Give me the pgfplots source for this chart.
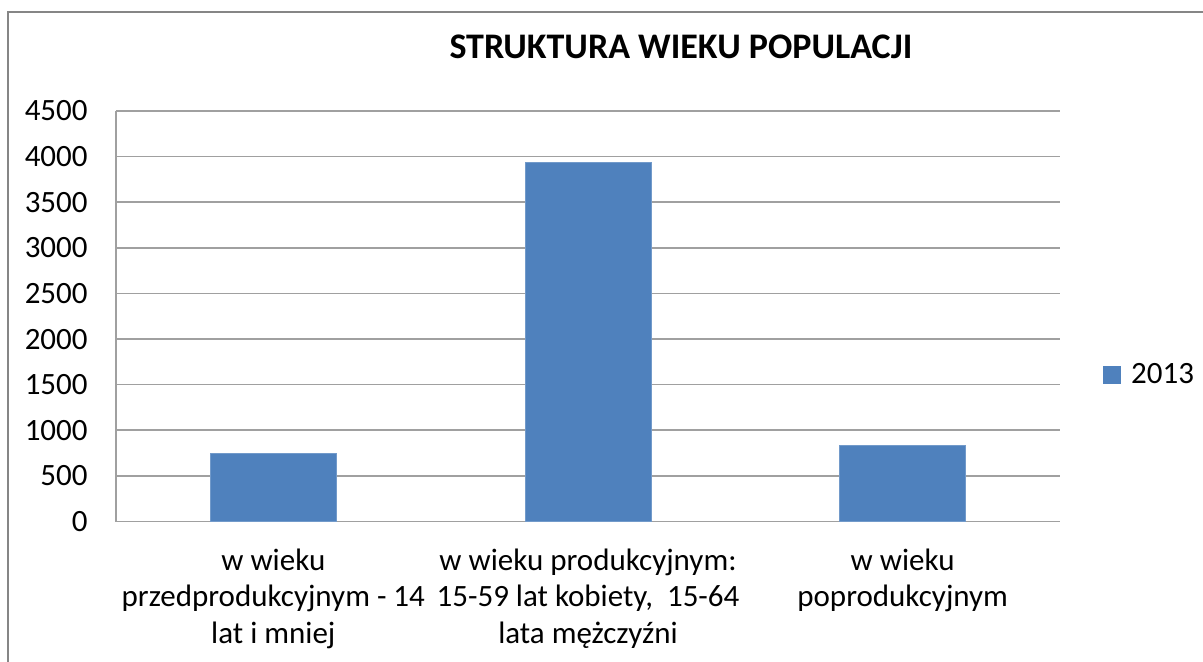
\documentclass[border=0pt]{standalone}
\usepackage{pgfplots}
\pgfplotsset{compat=1.18}
\usepackage{fontspec}
\setmainfont{Carlito}
\definecolor{barblue}{HTML}{4F81BD}
\definecolor{gridgray}{HTML}{A0A0A0}
\definecolor{framegray}{HTML}{868686}
\begin{document}
\begin{tikzpicture}
\begin{axis}[
  at={(0pt,0pt)}, anchor=south west,
  scale only axis,
  width=472pt, height=205.25pt,
  xmin=-0.5, xmax=2.5,
  ymin=0, ymax=4500,
  ytick={0,500,...,4500},
  xtick={0,1,2},
  xticklabels={{w wieku\\przedprodukcyjnym - 14\\lat i mniej},
               {w wieku produkcyjnym:\\15-59 lat kobiety,\ \ 15-64\\lata mężczyźni},
               {w wieku\\poprodukcyjnym}},
  axis x line*=bottom, axis y line*=left,
  axis line style={draw=gridgray, line width=0.8pt, -},
  ymajorgrids, grid style={draw=gridgray, line width=0.8pt},
  major tick length=0pt,
  tick style={draw=none},
  /pgf/number format/assume math mode=true,
  /pgf/number format/1000 sep={},
  yticklabel style={font=\fontsize{15.5}{18.25}\selectfont, text=black, inner sep=0pt, anchor=east, xshift=-14pt},
  xticklabel style={font=\fontsize{15.5}{18.25}\selectfont, text=black, align=center, inner sep=0pt, anchor=north, yshift=-13.4pt},
  ybar, bar width=63pt,
  legend style={draw=none, fill=none, at={(1.0456,0.358)}, anchor=west, inner sep=0pt,
    font=\fontsize{15.5}{18.25}\selectfont, legend cell align=left},
  legend image code/.code={\fill[barblue] (0pt,-4.25pt) rectangle (8.5pt,4.25pt);},
]
\addplot[fill=barblue, draw=barblue!80!white, line width=0.4pt] coordinates {(0,748) (1,3936) (2,835)};
\addlegendentry{\hspace{3pt}2013}
\end{axis}
\draw[framegray, line width=1pt] (-53.75pt,-80pt) -- (-53.75pt,254.75pt) -- (560pt,254.75pt);
\node[anchor=base, inner sep=0pt, font=\fontsize{18}{21}\selectfont\bfseries] at (282.5pt,231.6pt) {STRUKTURA WIEKU POPULACJI};
\pgfresetboundingbox
\path[use as bounding box] (-58pt,-69.75pt) rectangle (543.5pt,260.75pt);
\end{tikzpicture}
\end{document}
